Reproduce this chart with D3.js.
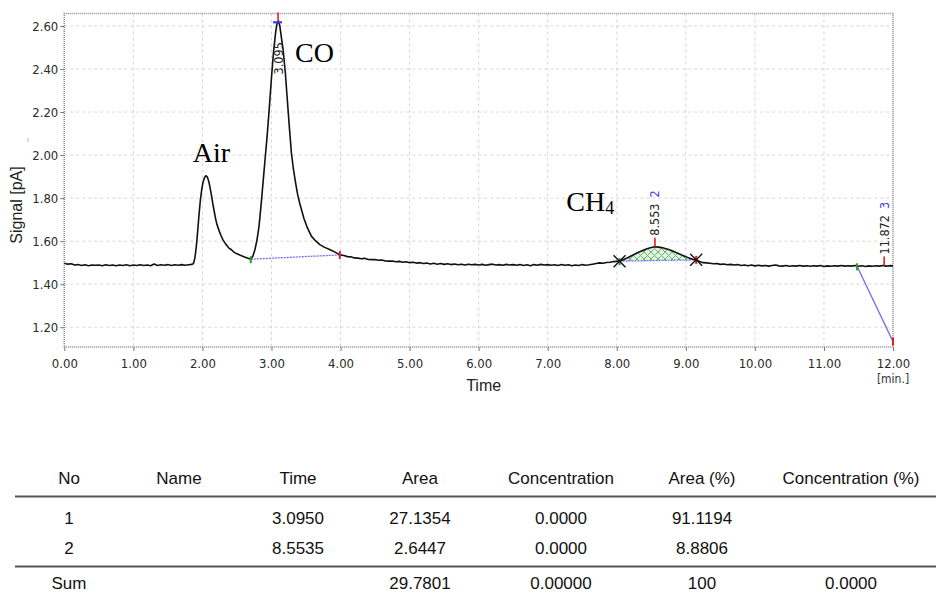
<!DOCTYPE html>
<html><head><meta charset="utf-8">
<script src="https://cdn.jsdelivr.net/npm/d3@7"></script>
<style>
html,body{margin:0;padding:0;background:#fff;}
svg{display:block;}
</style></head>
<body>
<svg id="c" width="936" height="592"></svg>
<script>
// ---------- DATA ----------
const times = [
0.00,0.05,0.10,0.15,0.20,0.25,0.30,0.35,0.40,0.45,0.50,0.55,0.60,0.65,0.70,0.75,0.80,0.85,0.90,0.95,
1.00,1.05,1.10,1.15,1.20,1.25,1.30,1.35,1.40,1.45,1.50,1.55,1.60,1.65,1.70,1.75,1.80,1.85,
1.87,1.89,1.91,1.93,1.95,1.97,1.99,2.01,2.03,2.05,2.07,2.09,2.11,2.13,2.15,2.17,2.19,2.21,2.24,2.27,2.30,2.34,2.38,2.42,2.46,2.50,2.55,2.60,2.65,2.70,
2.73,2.76,2.79,2.82,2.85,2.88,2.91,2.94,2.97,3.00,3.03,3.06,3.08,3.10,3.12,3.14,3.17,3.20,3.23,3.26,3.29,3.32,3.35,3.38,3.41,3.44,3.47,3.51,3.55,3.58,3.64,3.70,3.77,3.85,3.92,3.99,
4.05,4.10,4.15,4.20,4.25,4.30,4.35,4.40,4.45,4.50,4.55,4.60,4.65,4.70,4.75,4.80,4.85,4.90,4.95,
5.00,5.05,5.10,5.15,5.20,5.25,5.30,5.35,5.40,5.45,5.50,5.55,5.60,5.65,5.70,5.75,5.80,5.85,5.90,5.95,
6.00,6.05,6.10,6.15,6.20,6.25,6.30,6.35,6.40,6.45,6.50,6.55,6.60,6.65,6.70,6.75,6.80,6.85,6.90,6.95,
7.00,7.05,7.10,7.15,7.20,7.25,7.30,7.35,7.40,7.45,7.50,7.55,7.60,7.65,7.70,7.75,7.80,7.85,7.90,7.95,8.00,
8.04,8.10,8.15,8.20,8.25,8.30,8.35,8.40,8.45,8.50,8.55,8.60,8.65,8.70,8.75,8.80,8.85,8.90,8.95,9.00,9.05,9.10,9.15,
9.20,9.25,9.30,9.35,9.40,9.45,9.50,9.55,9.60,9.65,9.70,9.75,9.80,9.85,9.90,9.95,
10.00,10.05,10.10,10.15,10.20,10.25,10.30,10.35,10.40,10.45,10.50,10.55,10.60,10.65,10.70,10.75,10.80,10.85,10.90,10.95,
11.00,11.05,11.10,11.15,11.20,11.25,11.30,11.35,11.40,11.45,11.50,11.55,11.60,11.65,11.70,11.75,11.80,11.85,11.90,11.95,12.00];
const signal = [
1.497,1.493,1.495,1.489,1.491,1.487,1.490,1.486,1.489,1.488,1.489,1.486,1.490,1.487,1.489,1.486,1.489,1.487,1.490,1.486,
1.489,1.487,1.490,1.487,1.489,1.486,1.494,1.487,1.490,1.488,1.491,1.487,1.490,1.488,1.491,1.488,1.490,1.492,
1.496,1.520,1.570,1.640,1.720,1.790,1.840,1.875,1.895,1.904,1.899,1.880,1.850,1.815,1.775,1.740,1.705,1.678,1.650,1.625,1.605,1.585,1.569,1.560,1.548,1.541,1.534,1.528,1.522,1.516,
1.530,1.560,1.605,1.670,1.770,1.880,1.990,2.100,2.225,2.360,2.480,2.570,2.610,2.624,2.602,2.555,2.485,2.385,2.255,2.125,2.005,1.930,1.870,1.815,1.775,1.740,1.705,1.670,1.642,1.622,1.601,1.584,1.571,1.560,1.549,1.536,
1.533,1.528,1.527,1.522,1.521,1.518,1.520,1.515,1.514,1.515,1.511,1.512,1.508,1.507,1.508,1.504,1.506,1.502,1.504,
1.500,1.502,1.498,1.500,1.496,1.498,1.494,1.497,1.493,1.496,1.492,1.495,1.491,1.494,1.490,1.493,1.489,1.493,1.490,1.492,
1.489,1.492,1.488,1.491,1.493,1.489,1.491,1.488,1.492,1.489,1.491,1.488,1.491,1.487,1.490,1.486,1.491,1.488,1.492,1.489,
1.491,1.488,1.490,1.487,1.491,1.488,1.490,1.486,1.489,1.487,1.491,1.488,1.490,1.493,1.496,1.499,1.497,1.501,1.502,1.505,1.506,
1.507,1.515,1.522,1.530,1.538,1.546,1.553,1.560,1.566,1.570,1.574,1.572,1.570,1.566,1.561,1.555,1.548,1.541,1.534,1.528,1.521,1.516,1.513,
1.505,1.500,1.499,1.497,1.495,1.496,1.492,1.494,1.490,1.492,1.489,1.491,1.487,1.489,1.486,1.489,
1.485,1.488,1.485,1.487,1.484,1.487,1.489,1.485,1.484,1.487,1.483,1.486,1.484,1.487,1.484,1.486,1.483,1.486,1.484,1.487,
1.482,1.485,1.483,1.486,1.484,1.487,1.484,1.486,1.484,1.487,1.483,1.486,1.482,1.485,1.483,1.486,1.484,1.487,1.484,1.486,1.485];

const xTicks = [0,1,2,3,4,5,6,7,8,9,10,11,12];
const yTicks = [1.20,1.40,1.60,1.80,2.00,2.20,2.40,2.60];

// integrated peaks: start/end of baseline, apex
const peakNo    = [1, 2, 3];
const peakTime  = [3.095, 8.553, 11.872];
const peakTop   = [2.624, 1.574, 1.487];
const peakLabel = ["3.095", "8.553", "11.872"];
const baseStartT = [2.70, 8.04, 11.48];
const baseStartV = [1.516, 1.507, 1.483];
const baseEndT   = [3.99, 9.15, 12.00];
const baseEndV   = [1.536, 1.513, 1.133];

const compounds = ["Air", "CO", "CH"];
const compoundT = [1.86, 3.34, 7.27];
const compoundV = [1.969, 2.434, 1.741];

// table
const tableHeader = ["No","Name","Time","Area","Concentration","Area (%)","Concentration (%)"];
const row1 = ["1","","3.0950","27.1354","0.0000","91.1194",""];
const row2 = ["2","","8.5535","2.6447","0.0000","8.8806",""];
const sumRow = ["Sum","","","29.7801","0.00000","100","0.0000"];

// ---------- CHART ----------
const svg = d3.select("#c");
const L = 64.3, R = 893, T = 13.5, B = 347;
const x = d3.scaleLinear().domain([0,12]).range([L,R]);
const y = d3.scaleLinear().domain([1.108,2.658]).range([B,T]);

const defs = svg.append("defs");
const pat = defs.append("pattern").attr("id","hatch").attr("patternUnits","userSpaceOnUse")
  .attr("width",7).attr("height",7);
pat.append("rect").attr("width",7).attr("height",7).attr("fill","#dff2df");
pat.append("path").attr("d","M0,0L7,7M7,0L0,7").attr("stroke","#6cb86c").attr("stroke-width",1);

// grid
const grid = svg.append("g");
grid.selectAll(".gx").data(xTicks.slice(1,-1)).join("line")
  .attr("x1",d=>x(d)).attr("x2",d=>x(d)).attr("y1",T).attr("y2",B)
  .attr("stroke","#d6d6d6").attr("stroke-dasharray","3,3");
grid.selectAll(".gy").data(yTicks).join("line")
  .attr("x1",L).attr("x2",R).attr("y1",d=>y(d)).attr("y2",d=>y(d))
  .attr("stroke","#d6d6d6").attr("stroke-dasharray","3,3");

// border (dotted)
svg.append("rect").attr("x",L).attr("y",T).attr("width",R-L).attr("height",B-T)
  .attr("fill","none").attr("stroke","#8a8a8a").attr("stroke-width",1.6).attr("stroke-dasharray","1,1");

// axes
const tickFont = "'DejaVu Sans Condensed','DejaVu Sans',sans-serif";
const ax = svg.append("g").attr("transform",`translate(0,${B})`)
  .call(d3.axisBottom(x).tickValues(xTicks).tickFormat(d3.format(".2f")).tickSize(4).tickPadding(5));
const ay = svg.append("g").attr("transform",`translate(${L},0)`)
  .call(d3.axisLeft(y).tickValues(yTicks).tickFormat(d3.format(".2f")).tickSize(4).tickPadding(2));
[ax,ay].forEach(g=>{
  g.select(".domain").remove();
  g.selectAll(".tick line").attr("stroke","#777");
  g.selectAll(".tick text").attr("fill","#2a2a2a").style("font-family",tickFont).style("font-size","13px");
});
ax.selectAll(".tick text").attr("dy","0.9em");
svg.append("text").attr("x",x(12)).attr("y",383).attr("text-anchor","middle")
  .style("font-family",tickFont).style("font-size","12px").attr("fill","#333").text("[min.]");

svg.append("text").attr("x",(L+R)/2+5).attr("y",391).attr("text-anchor","middle")
  .style("font-family","'Liberation Sans',Arial,sans-serif").style("font-size","16px").attr("fill","#222").text("Time");
svg.append("text").attr("transform","translate(22,205) rotate(-90)").attr("text-anchor","middle")
  .style("font-family","'Liberation Sans',Arial,sans-serif").style("font-size","16px").attr("fill","#222").text("Signal [pA]");
svg.append("line").attr("x1",28).attr("x2",28).attr("y1",138).attr("y2",142).attr("stroke","#bbb");

// hatched CH4 area
const ch = [];
times.forEach((t,i)=>{ if(t>=baseStartT[1] && t<=baseEndT[1]) ch.push([t,signal[i]]); });
const baseAt = t => baseStartV[1] + (t-baseStartT[1])*(baseEndV[1]-baseStartV[1])/(baseEndT[1]-baseStartT[1]);
svg.append("path").datum(ch)
  .attr("d", d3.area().x(d=>x(d[0])).y0(d=>y(baseAt(d[0]))).y1(d=>y(d[1])))
  .attr("fill","url(#hatch)");

// integration baselines
peakNo.forEach((p,i)=>{
  svg.append("line").attr("x1",x(baseStartT[i])).attr("y1",y(baseStartV[i]))
    .attr("x2",x(baseEndT[i])).attr("y2",y(baseEndV[i]))
    .attr("stroke","#6f6ff5").attr("stroke-width",1.3).attr("stroke-dasharray", i===2?null:"2,1");
});

// signal line
svg.append("path").datum(times.map((t,i)=>[t,signal[i]]))
  .attr("d", d3.line().x(d=>x(d[0])).y(d=>y(d[1])))
  .attr("fill","none").attr("stroke","#111").attr("stroke-width",1.6).attr("stroke-linejoin","round");

// start/end markers
peakNo.forEach((p,i)=>{
  svg.append("line").attr("x1",x(baseStartT[i])).attr("x2",x(baseStartT[i]))
    .attr("y1",y(baseStartV[i])-3).attr("y2",y(baseStartV[i])+4).attr("stroke","#2a9a2a").attr("stroke-width",2);
  svg.append("line").attr("x1",x(baseEndT[i])).attr("x2",x(baseEndT[i]))
    .attr("y1",y(baseEndV[i])-4).attr("y2",y(baseEndV[i])+4).attr("stroke","#e02020").attr("stroke-width",2);
});
// X markers for CH4
[[baseStartT[1],baseStartV[1]],[baseEndT[1],baseEndV[1]]].forEach(d=>{
  const cx=x(d[0]), cy=y(d[1]);
  svg.append("path").attr("d",`M${cx-6},${cy-6}L${cx+6},${cy+6}M${cx+6},${cy-6}L${cx-6},${cy+6}`)
    .attr("stroke","#111").attr("stroke-width",1.4);
});

// apex ticks and labels
peakNo.forEach((p,i)=>{
  const px=x(peakTime[i]), py=y(peakTop[i]);
  svg.append("line").attr("x1",px).attr("x2",px).attr("y1",Math.max(T-1,py-9)).attr("y2",py)
    .attr("stroke","#e02020").attr("stroke-width",1.6);
  if(i===0){
    svg.append("line").attr("x1",px-5).attr("x2",px+4).attr("y1",py+1.5).attr("y2",py+1.5)
      .attr("stroke","#3b3bf0").attr("stroke-width",2.2);
    svg.append("text").attr("transform",`translate(${px+4.5},${y(2.375)}) rotate(-90)`)
      .style("font-family",tickFont).style("font-size","12.5px").attr("fill","#222").text(peakLabel[i]);
  } else {
    const ly = py-11;
    const t = svg.append("text").attr("transform",`translate(${px+4.5},${ly}) rotate(-90)`)
      .style("font-family",tickFont).style("font-size","12.5px").attr("fill","#222").text(peakLabel[i]);
    const w = t.node().getComputedTextLength();
    svg.append("text").attr("transform",`translate(${px+4.5},${ly-w-6}) rotate(-90)`)
      .style("font-family",tickFont).style("font-size","12.5px").attr("fill","#3b3bf0").text(p);
  }
});

// compound annotations
const serif = "'Liberation Serif','Times New Roman',serif";
compounds.forEach((c,i)=>{
  const t = svg.append("text").attr("x",x(compoundT[i])).attr("y",y(compoundV[i]))
    .style("font-family",serif).style("font-size","28px").attr("fill","#000").text(c);
  if(c==="CH") t.append("tspan").attr("dy",3).style("font-size","18px").text("4");
});

// ---------- TABLE ----------
const colX = [69,179,298,420,561,702,851];
const tf = "'Liberation Sans',Arial,sans-serif";
function row(vals, yy){
  svg.append("g").selectAll("text").data(vals).join("text")
    .attr("x",(d,i)=>colX[i]).attr("y",yy).attr("text-anchor","middle")
    .style("font-family",tf).style("font-size","17px").attr("fill","#111").text(d=>d);
}
row(tableHeader,484);
row(row1,524);
row(row2,554);
row(sumRow,589);
svg.append("line").attr("x1",15).attr("x2",936).attr("y1",496.5).attr("y2",496.5).attr("stroke","#555").attr("stroke-width",2.2);
svg.append("line").attr("x1",15).attr("x2",936).attr("y1",566.5).attr("y2",566.5).attr("stroke","#555").attr("stroke-width",2.2);
</script>
</body></html>
